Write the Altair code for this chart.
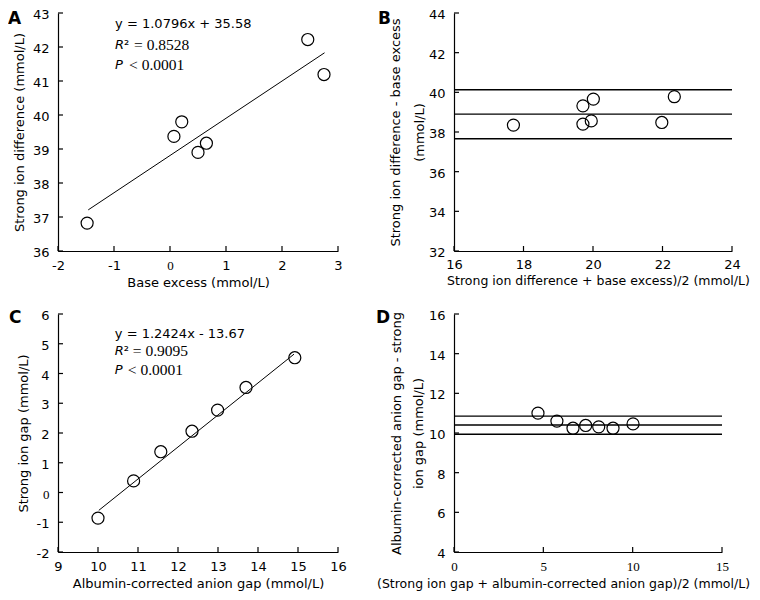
import altair as alt
import pandas as pd

FONT = "DejaVu Sans"
SERIF = "Liberation Serif"

# ---------------- Panel A ----------------
a_x = [-1.48, 0.07, 0.21, 0.50, 0.65, 2.46, 2.75]
a_y = [36.82, 39.37, 39.80, 38.90, 39.17, 42.22, 41.19]
a_fit_x = [-1.46, 2.76]
a_fit_y = [37.21, 41.83]
a_xticks = [-2, -1, 0, 1, 2, 3]
a_yticks = [36, 37, 38, 39, 40, 41, 42, 43]
a_eq = "y = 1.0796x + 35.58"
a_r2 = "= 0.8528"
a_p = "< 0.0001"
a_ann_x = -0.98
a_ann_y = [42.68, 42.06, 41.48]

# ---------------- Panel B ----------------
b_x = [17.71, 19.71, 19.71, 19.95, 20.01, 21.98, 22.34]
b_y = [38.35, 39.32, 38.40, 38.56, 39.66, 38.48, 39.78]
b_lines = [40.13, 38.90, 37.66]
b_xticks = [16, 18, 20, 22, 24]
b_yticks = [32, 34, 36, 38, 40, 42, 44]

# ---------------- Panel C ----------------
c_x = [10.00, 10.89, 11.57, 12.35, 12.99, 13.70, 14.92]
c_y = [-0.86, 0.39, 1.37, 2.06, 2.77, 3.53, 4.53]
c_fit_x = [10.02, 14.90]
c_fit_y = [-0.60, 4.65]
c_xticks = [9, 10, 11, 12, 13, 14, 15, 16]
c_yticks = [-2, -1, 0, 1, 2, 3, 4, 5, 6]
c_eq = "y = 1.2424x - 13.67"
c_r2 = "= 0.9095"
c_p = "< 0.0001"
c_ann_x = 10.42
c_ann_y = [5.32, 4.75, 4.11]

# ---------------- Panel D ----------------
d_x = [4.70, 5.76, 6.66, 7.37, 8.10, 8.90, 10.02]
d_y = [11.00, 10.60, 10.24, 10.38, 10.31, 10.24, 10.46]
d_lines = [10.85, 10.40, 9.94]
d_xticks = [0, 5, 10, 15]
d_yticks = [4, 6, 8, 10, 12, 14, 16]

W = 280
H = 238
FS = 13
LABEL_EXPR = "'' + datum.value"


def zero_serif():
    return alt.condition("datum.value == 0", alt.value(SERIF), alt.value(FONT))


def make_panel(letter, lpos, px, py, xticks, yticks, w, h,
               xtitle, ytitle, ytitle_x, ytitle_lh, xtitle_x, xtitle_y,
               fit=None, hlines=None, ann=None,
               xlabel_font=FONT, ylabel_font=FONT, xtitle_fs=FS, xlabel_pad=8.5):
    xs = alt.Scale(domain=[xticks[0], xticks[-1]], nice=False, zero=False)
    ys = alt.Scale(domain=[yticks[0], yticks[-1]], nice=False, zero=False)
    xaxis = alt.Axis(
        title=xtitle, values=xticks, ticks=False, tickSize=0, grid=False,
        domainColor="black", domainWidth=1.2, labelExpr=LABEL_EXPR,
        labelFont=xlabel_font, labelFontSize=FS, labelColor="black",
        labelPadding=xlabel_pad, labelFlush=False, labelOverlap=False,
        titleFont=FONT, titleFontSize=xtitle_fs, titleFontWeight="normal",
        titleColor="black", titleX=xtitle_x, titleY=xtitle_y,
        titleBaseline="top", titleAlign="center", titleAngle=0)
    yaxis = alt.Axis(
        title=ytitle, values=yticks, ticks=False, tickSize=0, grid=False,
        domainColor="black", domainWidth=1.2, labelExpr=LABEL_EXPR,
        labelFont=ylabel_font, labelFontSize=FS, labelColor="black",
        labelPadding=9, labelFlush=False, labelOverlap=False, labelOffset=1.5,
        titleFont=FONT, titleFontSize=FS, titleFontWeight="normal",
        titleColor="black", titleX=ytitle_x, titleY=h / 2,
        titleBaseline="middle", titleAlign="center", titleAngle=270,
        titleLineHeight=ytitle_lh)

    X = alt.X("x:Q", scale=xs, axis=xaxis)
    Y = alt.Y("y:Q", scale=ys, axis=yaxis)

    layers = []
    pts = pd.DataFrame({"x": px, "y": py})
    layers.append(alt.Chart(pts).mark_point(
        shape="circle", size=145, filled=False, color="black",
        strokeWidth=1.2, opacity=1).encode(x=X, y=Y))

    if fit is not None:
        fdf = pd.DataFrame({"x": fit[0], "y": fit[1]})
        layers.append(alt.Chart(fdf).mark_line(color="black", strokeWidth=1)
                      .encode(x=X, y=Y))
    if hlines is not None:
        hdf = pd.DataFrame({"y": hlines, "x": [xticks[0]] * len(hlines),
                            "x2": [xticks[-1]] * len(hlines)})
        layers.append(alt.Chart(hdf).mark_rule(color="black", strokeWidth=1.4)
                      .encode(x=X, x2="x2:Q", y=Y))

    # inward tick marks
    xt = pd.DataFrame({"x": xticks})
    layers.append(alt.Chart(xt).mark_rule(color="black", strokeWidth=1.2)
                  .encode(x=X, y=alt.value(h), y2=alt.value(h - 5)))
    yt = pd.DataFrame({"y": yticks})
    layers.append(alt.Chart(yt).mark_rule(color="black", strokeWidth=1.2)
                  .encode(y=Y, x=alt.value(0), x2=alt.value(5)))

    if ann is not None:
        ax, ay, eq, r2, pv, eq_dx, lt_dx = ann
        d1 = pd.DataFrame({"x": [ax], "y": [ay[0]], "t": [eq]})
        layers.append(alt.Chart(d1).mark_text(
            font=FONT, fontSize=FS, align="left", baseline="middle",
            color="black").encode(x=X, y=Y, text="t:N"))
        d2 = pd.DataFrame({"x": [ax], "y": [ay[1]], "t": ["R"]})
        layers.append(alt.Chart(d2).mark_text(
            font=FONT, fontSize=FS, fontStyle="italic", align="left",
            baseline="middle", color="black").encode(x=X, y=Y, text="t:N"))
        d2b = pd.DataFrame({"x": [ax], "y": [ay[1]], "t": ["\u00b2"]})
        layers.append(alt.Chart(d2b).mark_text(
            font=FONT, fontSize=FS, align="left", dx=9,
            baseline="middle", color="black").encode(x=X, y=Y, text="t:N"))
        d2c = pd.DataFrame({"x": [ax], "y": [ay[1]], "t": [r2]})
        layers.append(alt.Chart(d2c).mark_text(
            font=SERIF, fontSize=15.5, align="left", dx=eq_dx,
            baseline="middle", color="black").encode(x=X, y=Y, text="t:N"))
        d3 = pd.DataFrame({"x": [ax], "y": [ay[2]], "t": ["P"]})
        layers.append(alt.Chart(d3).mark_text(
            font=FONT, fontSize=FS, fontStyle="italic", align="left",
            baseline="middle", color="black").encode(x=X, y=Y, text="t:N"))
        d3c = pd.DataFrame({"x": [ax], "y": [ay[2]], "t": [pv]})
        layers.append(alt.Chart(d3c).mark_text(
            font=SERIF, fontSize=15.5, align="left", dx=lt_dx,
            baseline="middle", color="black").encode(x=X, y=Y, text="t:N"))

    ldf = pd.DataFrame({"t": [letter]})
    layers.append(alt.Chart(ldf).mark_text(
        font=FONT, fontSize=17, fontWeight="bold", align="left",
        baseline="alphabetic", color="black").encode(
        x=alt.value(lpos[0]), y=alt.value(lpos[1]), text="t:N"))

    return alt.layer(*layers).properties(width=w, height=h)


pa = make_panel("A", (-50, 11), a_x, a_y, a_xticks, a_yticks, W, H,
                "Base excess (mmol/L)", "Strong ion difference (mmol/L)",
                -39, 15, W / 2, 25,
                fit=(a_fit_x, a_fit_y),
                ann=(a_ann_x, a_ann_y, a_eq, a_r2, a_p, 19, 14),
                xlabel_font=zero_serif())
pb = make_panel("B", (-76, 11), b_x, b_y, b_xticks, b_yticks, 278, H,
                "Strong ion difference + base excess)/2 (mmol/L)",
                ["Strong ion difference - base excess", "(mmol/L)"],
                -59, 24, 144, 23, hlines=b_lines, xtitle_fs=12.5,
                xlabel_pad=7.5)
pc = make_panel("C", (-49, 9), c_x, c_y, c_xticks, c_yticks, W, H,
                "Albumin-corrected anion gap (mmol/L)", "Strong ion gap (mmol/L)",
                -35, 15, W / 2, 25,
                fit=(c_fit_x, c_fit_y),
                ann=(c_ann_x, c_ann_y, c_eq, c_r2, c_p, 18, 13),
                ylabel_font=zero_serif())
pd_ = make_panel("D", (-78, 9), d_x, d_y, d_xticks, d_yticks, 268, H,
                 "(Strong ion gap + albumin-corrected anion gap)/2 (mmol/L)",
                 ["Albumin-corrected anion gap - strong", "ion gap (mmol/L)"],
                 -58, 22, 109, 25, hlines=d_lines, xlabel_font=SERIF,
                 xtitle_fs=12.5)

chart = alt.concat(pa, pb, pc, pd_, columns=2,
                   spacing={"row": 63, "column": 116},
                   bounds="flush").configure_view(stroke=None).properties(
    padding={"left": 0, "top": 0, "right": 0, "bottom": 2},
    background="white")

chart.save("out.html", embed_options={"renderer": "svg", "actions": False})
